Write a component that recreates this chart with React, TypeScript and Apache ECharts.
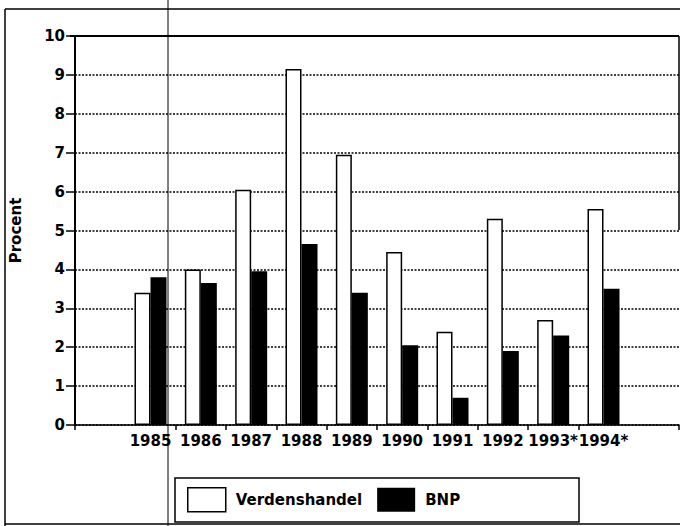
import React, { useEffect, useRef } from "react";
import * as echarts from "echarts";

const years = ["1985", "1986", "1987", "1988", "1989", "1990", "1991", "1992", "1993*", "1994*"];
const verdenshandel = [3.4, 4.0, 6.05, 9.15, 6.95, 4.45, 2.4, 5.3, 2.7, 5.55];
const bnp = [3.8, 3.65, 3.95, 4.65, 3.4, 2.05, 0.7, 1.9, 2.3, 3.5];
const yTicks = [0, 1, 2, 3, 4, 5, 6, 7, 8, 9, 10];

const FONT = "DejaVu Sans";

export default function App() {
  const ref = useRef<HTMLDivElement>(null);
  useEffect(() => {
    if (!ref.current) return;
    const chart = echarts.init(ref.current, null, { renderer: "svg" });
    const categories = ["", ...years, ""];
    const vData: (number | string)[] = ["-", ...verdenshandel, "-"];
    const bData: (number | string)[] = ["-", ...bnp, "-"];
    chart.setOption({
      animation: false,
      backgroundColor: "#ffffff",
      grid: { left: 70, right: 1, top: 36, bottom: 101, containLabel: false },
      xAxis: {
        type: "category",
        data: categories,
        boundaryGap: true,
        axisLine: { show: true, lineStyle: { color: "#000", width: 1.5 } },
        axisTick: {
          show: true,
          length: 5,
          lineStyle: { color: "#000", width: 1.5 },
          interval: (i: number) => i === 0 || (i >= 2 && i <= 10),
        },
        axisLabel: {
          interval: 0,
          margin: 8,
          color: "#000",
          fontFamily: FONT,
          fontWeight: "bold",
          fontSize: 15,
        },
        splitLine: { show: false },
      },
      yAxis: {
        type: "value",
        min: yTicks[0],
        max: yTicks[yTicks.length - 1],
        interval: 1,
        name: "Procent",
        nameLocation: "middle",
        nameRotate: 90,
        nameGap: 52,
        nameTextStyle: { color: "#000", fontFamily: FONT, fontWeight: "bold", fontSize: 15 },
        axisLine: { show: true, lineStyle: { color: "#000", width: 2 } },
        axisTick: { show: true, length: 9, lineStyle: { color: "#000", width: 1.5 } },
        axisLabel: {
          margin: 10,
          color: "#000",
          fontFamily: FONT,
          fontWeight: "bold",
          fontSize: 15,
        },
        splitLine: { show: true, lineStyle: { color: "#000", width: 1.5, type: [2, 1.5] } },
      },
      legend: {
        data: [
          { name: "Verdenshandel", itemStyle: { color: "#fff", borderColor: "#000", borderWidth: 1.5 } },
          { name: "BNP", itemStyle: { color: "#000" } },
        ],
        left: 187,
        top: 487,
        icon: "rect",
        itemWidth: 38,
        itemHeight: 24,
        itemGap: 15,
        padding: 0,
        textStyle: {
          color: "#000",
          fontFamily: FONT,
          fontWeight: "bold",
          fontSize: 15,
          padding: [0, 0, 12, 5],
        },
      },
      graphic: [
        { type: "line", shape: { x1: 5, y1: 9, x2: 5, y2: 526 }, style: { stroke: "#000", lineWidth: 1.5 } },
        { type: "line", shape: { x1: 5, y1: 9, x2: 680, y2: 9 }, style: { stroke: "#000", lineWidth: 1.5 } },
        { type: "line", shape: { x1: 5, y1: 524, x2: 680, y2: 524 }, style: { stroke: "#000", lineWidth: 1.5 } },
        { type: "line", shape: { x1: 168, y1: 0, x2: 168, y2: 526 }, style: { stroke: "#000", lineWidth: 1 } },
        { type: "line", shape: { x1: 70, y1: 36, x2: 679, y2: 36 }, style: { stroke: "#000", lineWidth: 2 } },
        { type: "line", shape: { x1: 679, y1: 36, x2: 679, y2: 230 }, style: { stroke: "#000", lineWidth: 1.5 } },
        {
          type: "rect",
          shape: { x: 175, y: 478, width: 404, height: 44 },
          style: { fill: "none", stroke: "#000", lineWidth: 1.5 },
        },
      ],
      series: [
        {
          name: "Verdenshandel",
          type: "bar",
          data: vData,
          barWidth: 16,
          barGap: "0%",
          itemStyle: { color: "#fff", borderColor: "#000", borderWidth: 1.5 },
        },
        {
          name: "BNP",
          type: "bar",
          data: bData,
          barWidth: 16,
          barGap: "0%",
          itemStyle: { color: "#000" },
        },
      ],
    });
    return () => chart.dispose();
  }, []);
  return (
    <div
      ref={ref}
      style={{ position: "fixed", left: 0, top: 0, width: 680, height: 526, background: "#fff" }}
    />
  );
}
